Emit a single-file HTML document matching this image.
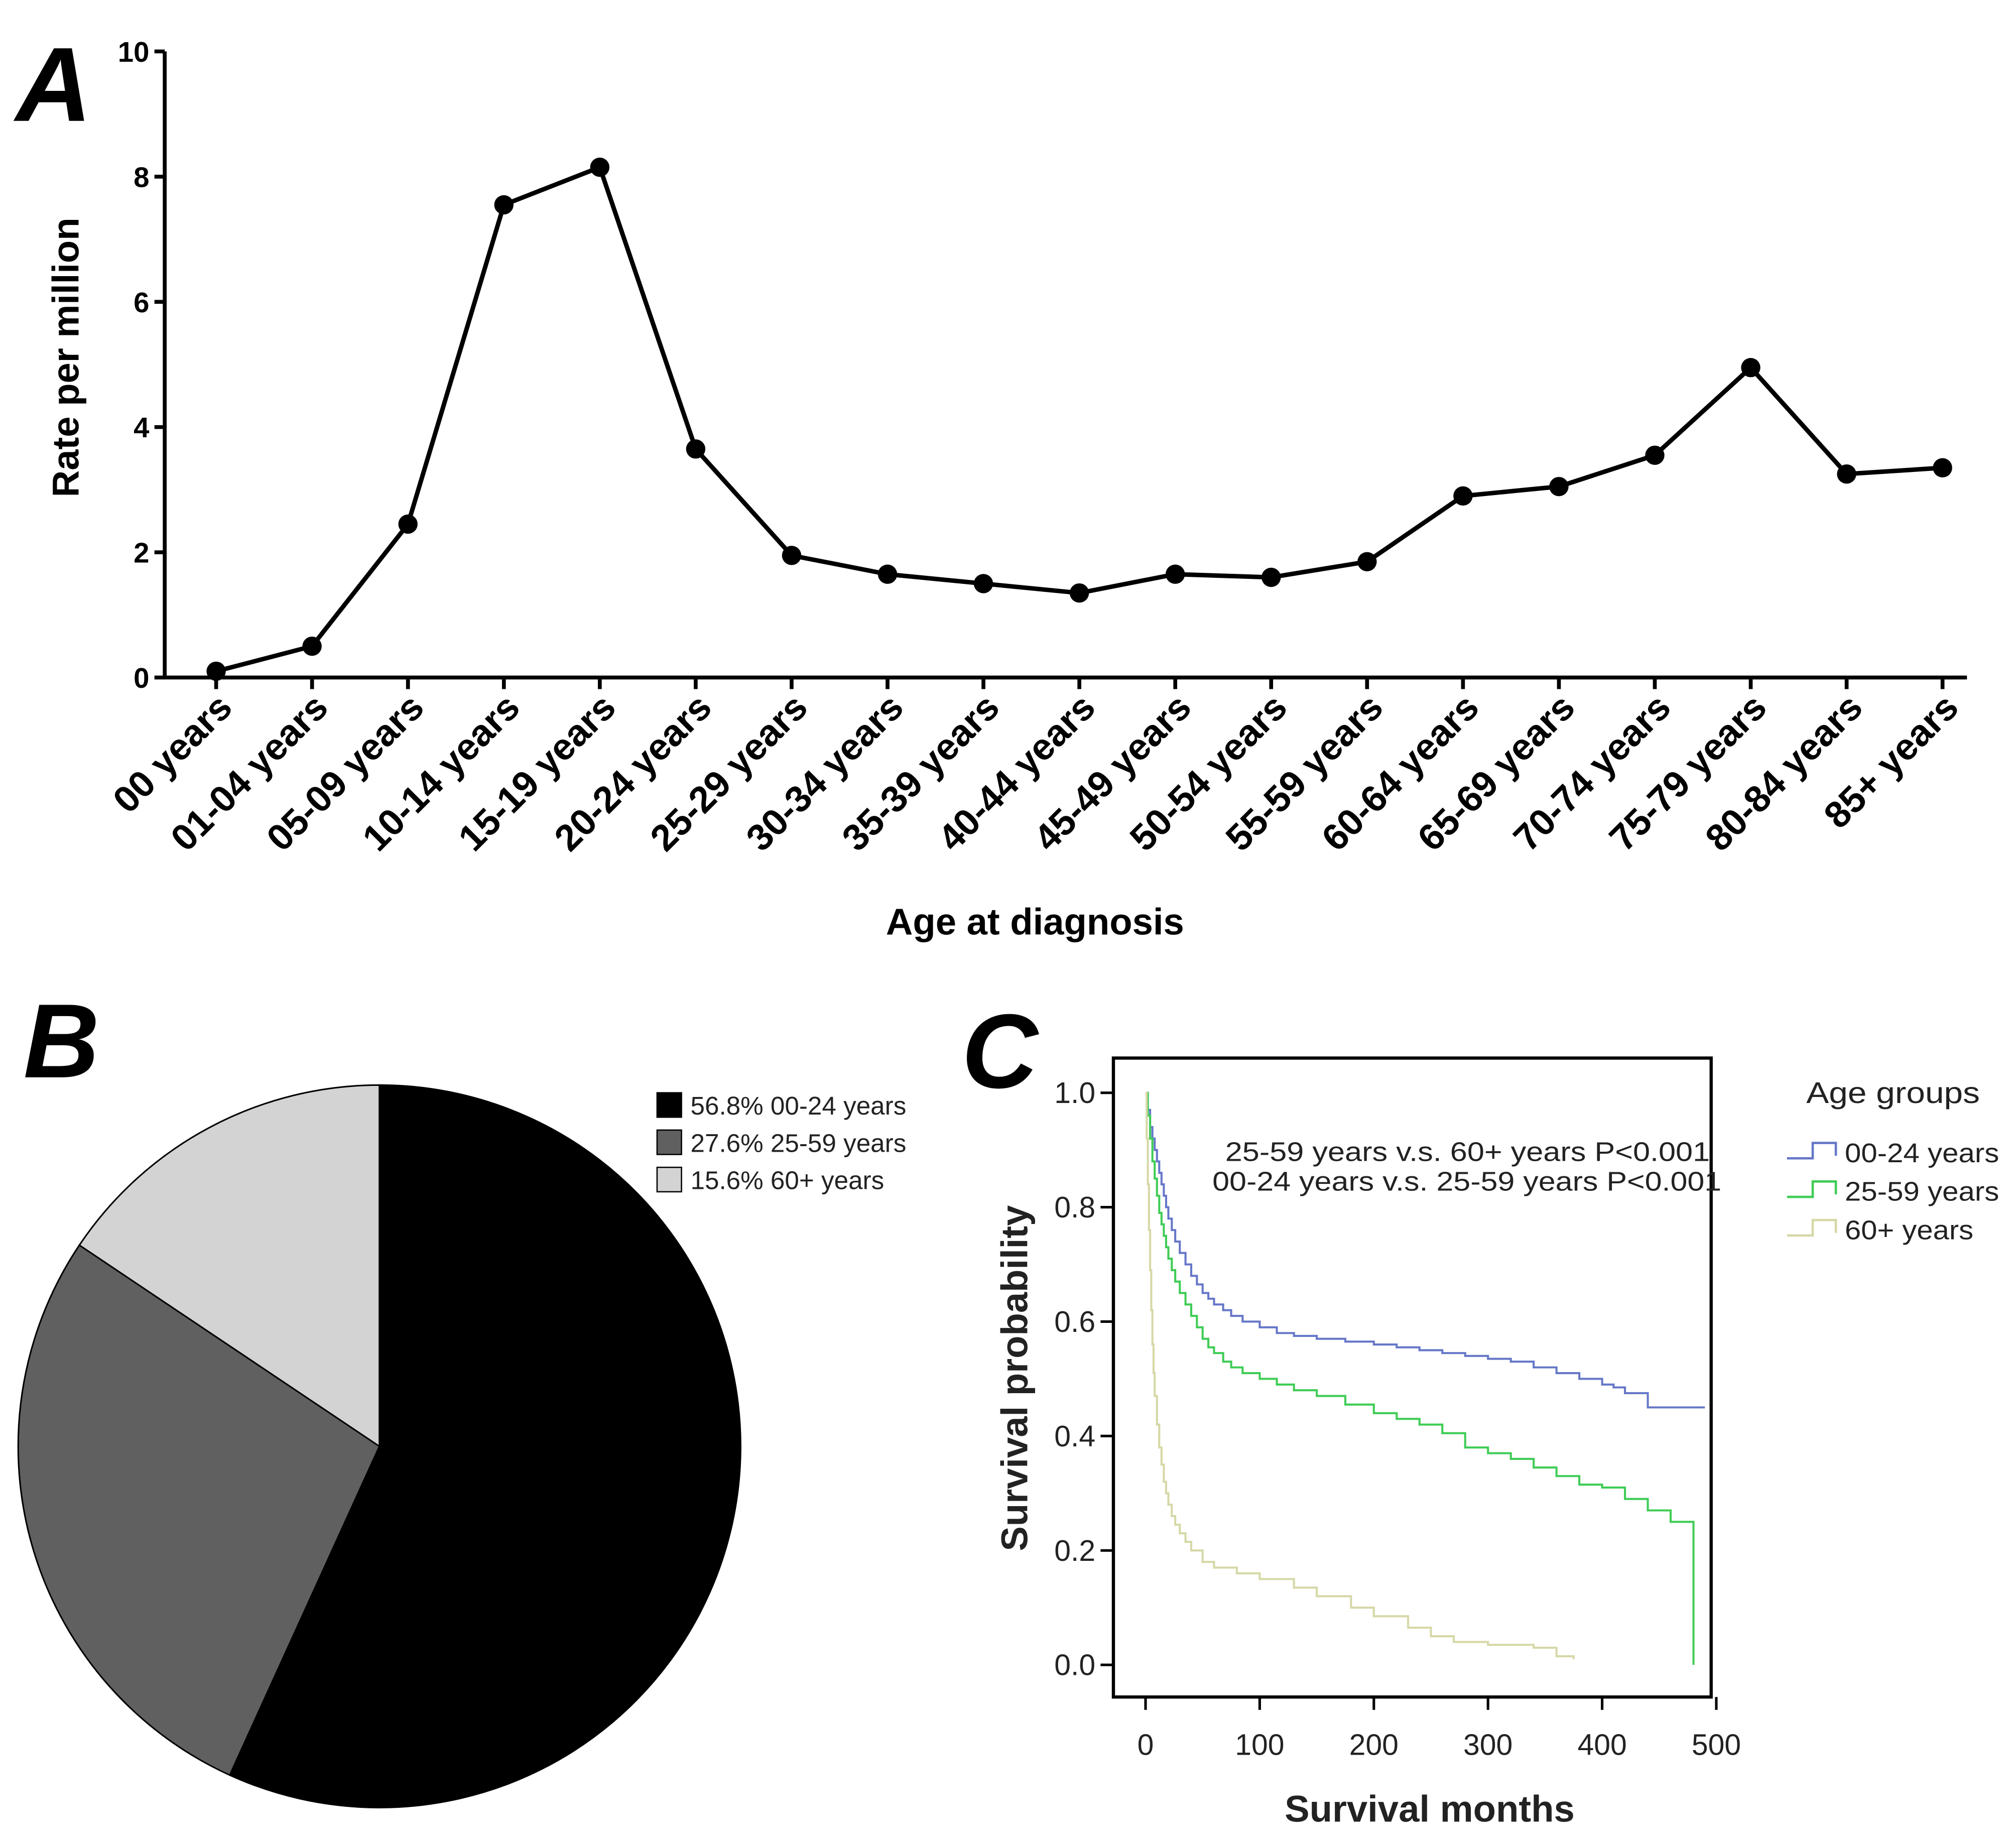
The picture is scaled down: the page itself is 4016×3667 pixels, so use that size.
<!DOCTYPE html>
<html><head><meta charset="utf-8"><style>
html,body{margin:0;padding:0;background:#fff;}
svg{display:block;}
text{font-family:"Liberation Sans",sans-serif;}
</style></head><body>
<svg id="fig" width="4016" height="3667" viewBox="0 0 1568 1432" xmlns="http://www.w3.org/2000/svg">
<rect width="1568" height="1432" fill="#fff"/>
<g id="panelA"></g>
<g id="panelB"></g>
<g id="panelC"></g>
</svg>
<script>
// ---- Panel A data ----
const ageCategories = ["00 years","01-04 years","05-09 years","10-14 years","15-19 years","20-24 years","25-29 years","30-34 years","35-39 years","40-44 years","45-49 years","50-54 years","55-59 years","60-64 years","65-69 years","70-74 years","75-79 years","80-84 years","85+ years"];
const rateValues = [0.1,0.5,2.45,7.55,8.15,3.65,1.95,1.65,1.5,1.35,1.65,1.6,1.85,2.9,3.05,3.55,4.95,3.25,3.35];
const rateTicks = [0,2,4,6,8,10];
// ---- Panel B data ----
const pieLabels = ["00-24 years","25-59 years","60+ years"];
const piePercents = [56.8,27.6,15.6];
// ---- Panel C data ----
const kmGroups = ["00-24 years","25-59 years","60+ years"];
const kmBlueT = [0,2,4,6,8,10,12,14,16,18,20,23,26,30,35,40,45,50,55,60,68,75,85,100,115,130,150,175,200,220,240,260,280,300,320,340,360,380,400,410,420,440,490];
const kmBlueS = [1,0.97,0.94,0.92,0.9,0.88,0.86,0.84,0.82,0.8,0.78,0.76,0.74,0.72,0.7,0.68,0.665,0.65,0.64,0.63,0.62,0.61,0.6,0.59,0.58,0.575,0.57,0.565,0.56,0.555,0.55,0.545,0.54,0.535,0.53,0.52,0.51,0.5,0.49,0.485,0.475,0.45,0.45];
const kmGreenT = [0,2,4,6,8,10,12,14,16,18,20,23,26,30,35,40,45,50,55,60,68,75,85,100,115,130,150,175,200,220,240,260,280,300,320,340,360,380,400,420,440,460,480,480];
const kmGreenS = [1,0.96,0.92,0.88,0.85,0.82,0.79,0.77,0.75,0.73,0.71,0.69,0.67,0.65,0.63,0.61,0.59,0.57,0.555,0.545,0.53,0.52,0.51,0.5,0.49,0.48,0.47,0.455,0.44,0.43,0.42,0.405,0.38,0.37,0.36,0.345,0.33,0.315,0.31,0.29,0.27,0.25,0.22,0.0];
const kmYellowT = [0,1,2,3,4,5,6,7,8,10,12,14,16,18,20,23,26,30,35,40,50,60,80,100,130,150,180,200,230,250,270,300,340,360,375];
const kmYellowS = [1,0.92,0.84,0.76,0.69,0.62,0.56,0.51,0.47,0.42,0.38,0.35,0.32,0.3,0.28,0.26,0.245,0.23,0.215,0.2,0.18,0.17,0.16,0.15,0.135,0.12,0.1,0.085,0.065,0.05,0.04,0.035,0.03,0.015,0.01];
const kmYTicks = [0,0.2,0.4,0.6,0.8,1.0];
const kmXTicks = [0,100,200,300,400,500];

const NS="http://www.w3.org/2000/svg";
function mk(tag,attrs,parent,txt){const e=document.createElementNS(NS,tag);for(const k in attrs)e.setAttribute(k,attrs[k]);if(txt!==undefined)e.textContent=txt;parent.appendChild(e);return e;}

// ===== Panel A =====
(function(){
const g=document.getElementById('panelA');
const x0=168,dx=(1511-168)/18;
const X=i=>x0+i*dx, Y=v=>527-v*48.7;
let t=mk('text',{x:12,y:94,'font-size':82,'font-weight':'bold','font-style':'italic'},g,'A');


let ax=mk('path',{d:`M128,${Y(10)}V527H1530`,stroke:'#000','stroke-width':3,fill:'none'},g);


rateTicks.forEach(v=>{
 mk('line',{x1:120,x2:128,y1:Y(v),y2:Y(v),stroke:'#000','stroke-width':3},g);
 const tl=mk('text',{x:116,y:Y(v)+8,'font-size':22,'font-weight':'bold','text-anchor':'end'},g,String(v));
 
 
});
ageCategories.forEach((c,i)=>{
 mk('line',{x1:X(i),x2:X(i),y1:527,y2:536,stroke:'#000','stroke-width':3},g);
 const tl=mk('text',{x:X(i)+14,y:552,'font-size':29,'font-weight':'bold','text-anchor':'end',transform:`rotate(-45 ${X(i)+14} 552)`},g,c);
 
 
});
const pts=rateValues.map((v,i)=>X(i)+','+Y(v)).join(' ');
const ln=mk('polyline',{points:pts,fill:'none',stroke:'#000','stroke-width':3.5},g);


rateValues.forEach((v,i)=>{
 const c=mk('circle',{cx:X(i),cy:Y(v),r:7.5,fill:'#000'},g);
 
 
});
t=mk('text',{x:805,y:727,'font-size':29,'font-weight':'bold','text-anchor':'middle'},g,'Age at diagnosis');


t=mk('text',{x:0,y:0,'font-size':29,'font-weight':'bold','text-anchor':'middle',transform:'translate(61,278) rotate(-90)'},g,'Rate per million');


})();

// ===== Panel B =====
(function(){
const g=document.getElementById('panelB');
let t=mk('text',{x:18,y:838,'font-size':82,'font-weight':'bold','font-style':'italic'},g,'B');


const cx=295,cy=1125,r=281;const fills=['#000','#606060','#d3d3d3'];
let a=0;
piePercents.forEach((p,i)=>{
 const a2=a+p/100*2*Math.PI;
 const x1=cx+r*Math.sin(a),y1=cy-r*Math.cos(a),x2=cx+r*Math.sin(a2),y2=cy-r*Math.cos(a2);
 const large=(a2-a)>Math.PI?1:0;
 const s=mk('path',{d:`M${cx},${cy}L${x1},${y1}A${r},${r} 0 ${large} 1 ${x2},${y2}Z`,fill:fills[i],stroke:'#000','stroke-width':1.2},g);
 
 
 a=a2;
 const ly=850+i*29;
 const box=mk('rect',{x:511,y:ly,width:19,height:19,fill:fills[i],stroke:'#000','stroke-width':1},g);
 
 
 const lt=mk('text',{x:537,y:ly+17,'font-size':20,fill:'#222','xml:space':'preserve'},g,p.toFixed(1)+'%  '+pieLabels[i]);
 
 
});
})();

// ===== Panel C =====
(function(){
const g=document.getElementById('panelC');
const X=m=>891+m*0.888, Y=s=>1295-s*445;
let t=mk('text',{x:748,y:846,'font-size':82,'font-weight':'bold','font-style':'italic'},g,'C');


const box=mk('rect',{x:866,y:823,width:465,height:497,fill:'none',stroke:'#000','stroke-width':2.5},g);


kmYTicks.forEach(v=>{
 mk('line',{x1:856,x2:866,y1:Y(v),y2:Y(v),stroke:'#000','stroke-width':2},g);
 const tl=mk('text',{x:852,y:Y(v)+8,'font-size':23,'text-anchor':'end',fill:'#222'},g,v.toFixed(1));
 
 
});
kmXTicks.forEach(v=>{
 mk('line',{x1:X(v),x2:X(v),y1:1320,y2:1330,stroke:'#000','stroke-width':2},g);
 const tl=mk('text',{x:X(v),y:1365,'font-size':23,'text-anchor':'middle',fill:'#222'},g,String(v));
 
 
});
function step(T,S){let d=`M${X(T[0])},${Y(S[0])}`;for(let i=1;i<T.length;i++){d+=`H${X(T[i])}V${Y(S[i])}`;}return d;}
const series=[[kmBlueT,kmBlueS,'#6677c8'],[kmGreenT,kmGreenS,'#3fcc55'],[kmYellowT,kmYellowS,'#d6d8a6']];
series.forEach((s,i)=>{
 const p=mk('path',{d:step(s[0],s[1]),fill:'none',stroke:s[2],'stroke-width':1.6},g);
 
 
 const ly=896+i*30;
 const li=mk('path',{d:`M1390,${ly+5}H1410V${ly-7}H1428V${ly+3}`,fill:'none',stroke:s[2],'stroke-width':1.8},g);
 
 
 const lt=mk('text',{x:1435,y:ly+8,'font-size':21,fill:'#222',textLength:i==2?100:120,lengthAdjust:'spacingAndGlyphs'},g,kmGroups[i]);
 
 
});
t=mk('text',{x:1405,y:858,'font-size':23,fill:'#222',textLength:135,lengthAdjust:'spacingAndGlyphs'},g,'Age groups');


t=mk('text',{x:953,y:903,'font-size':21,fill:'#222',textLength:377,lengthAdjust:'spacingAndGlyphs'},g,'25-59 years v.s. 60+ years P<0.001');


t=mk('text',{x:943,y:926,'font-size':21,fill:'#222',textLength:396,lengthAdjust:'spacingAndGlyphs'},g,'00-24 years v.s. 25-59 years P<0.001');


t=mk('text',{x:1112,y:1417,'font-size':29,'font-weight':'bold','text-anchor':'middle',fill:'#222'},g,'Survival months');


t=mk('text',{x:0,y:0,'font-size':29,'font-weight':'bold','text-anchor':'middle',fill:'#222',transform:'translate(799,1072) rotate(-90)'},g,'Survival probability');


})();
</script>
</body></html>
